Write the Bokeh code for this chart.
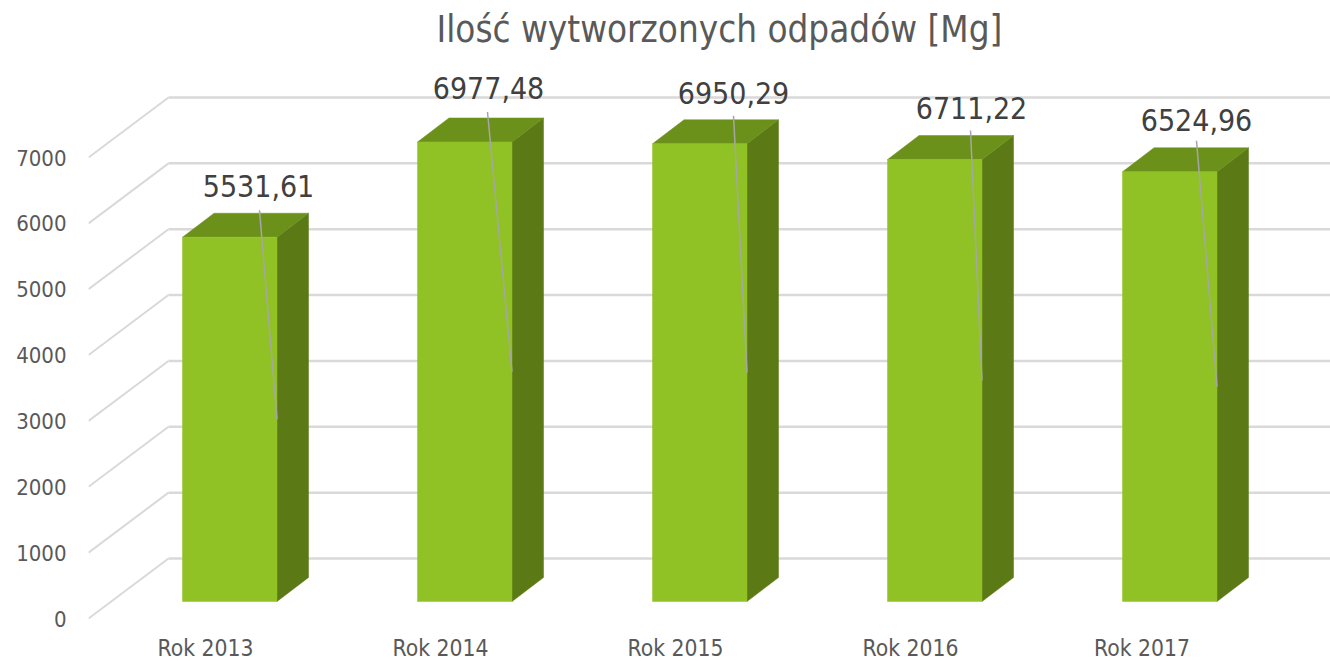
from bokeh.plotting import figure
from bokeh.embed import file_html
from bokeh.resources import INLINE
from bokeh.models import Range1d, FixedTicker, Title
from bokeh.core.properties import value

TITLE = "Ilość wytworzonych odpadów [Mg]"
categories = ["Rok 2013", "Rok 2014", "Rok 2015", "Rok 2016", "Rok 2017"]
values = [5531.61, 6977.48, 6950.29, 6711.22, 6524.96]
value_labels = ["5531,61", "6977,48", "6950,29", "6711,22", "6524,96"]
y_ticks = [0, 1000, 2000, 3000, 4000, 5000, 6000, 7000]

FONT = "DejaVu Sans Condensed"
PX_X = 235.0           # pixels per category
PX_Y = 461.0 / 7000.0  # pixels per unit

def ux(px): return px / PX_X
def uy(px): return px / PX_Y

lift = uy(17)
off_l, off_r = ux(-23), ux(71.5)
dx, dy = ux(31.5), uy(24)
wall_dx, wall_dy = ux(80), uy(60)
# hand-placed data labels (pixels relative to the bar's left edge / back top edge)
label_dx = [76, 71, 81, 84, 74]
label_dy = [27, 30, 27, 28, 28]
leader_dx = [77, 70, 81, 83, 74]
leader_dy = [3, 6, 4, 5, 7]
# the last category label sits a little left of its slot in the reference
tick_pos = [0, 1, 2, 3, 3.985]

p = figure(frame_width=1242, frame_height=565, output_backend="svg", toolbar_location=None,
           x_range=Range1d(ux(-117), ux(1125)), y_range=Range1d(uy(-7), uy(558)),
           min_border_left=88, min_border_right=0, min_border_top=60, min_border_bottom=38,
           outline_line_color=None, background_fill_color="white", border_fill_color="white")
p.grid.visible = False

p.title = Title(text=TITLE, text_font=FONT, text_font_size="36.5px", text_font_style="normal",
                text_color="#595959", align="left", offset=348, standoff=15, vertical_align="top")

ax = p.yaxis[0]
ax.ticker = FixedTicker(ticks=y_ticks)
ax.axis_line_color = None
ax.major_tick_line_color = None
ax.minor_tick_line_color = None
ax.major_label_standoff = 16
ax.major_label_text_font = FONT
ax.major_label_text_font_size = "22px"
ax.major_label_text_color = "#595959"

bx = p.xaxis[0]
bx.ticker = FixedTicker(ticks=tick_pos)
bx.major_label_overrides = {t: c for t, c in zip(tick_pos, categories)}
bx.axis_line_color = None
bx.major_tick_line_color = None
bx.minor_tick_line_color = None
bx.major_label_standoff = 3
bx.major_label_text_font = FONT
bx.major_label_text_font_size = "22.7px"
bx.major_label_text_color = "#595959"

# walls
xl = p.x_range.start
p.segment([xl] * 8, y_ticks, [xl + wall_dx] * 8, [t + wall_dy for t in y_ticks],
          line_color="#D9D9D9", line_width=2)
p.segment([xl + wall_dx] * 8, [t + wall_dy for t in y_ticks], [p.x_range.end] * 8,
          [t + wall_dy for t in y_ticks], line_color="#D9D9D9", line_width=2.5)

# bars
n = range(len(values))
left = [i + off_l for i in n]
right = [i + off_r for i in n]
top = [lift + v for v in values]
p.patches([[r, r + dx, r + dx, r] for r in right],
          [[lift, lift + dy, t + dy, t] for t in top],
          fill_color="#5B7A16", line_color="#5B7A16", line_width=0.5)
p.patches([[l, l + dx, r + dx, r] for l, r in zip(left, right)],
          [[t, t + dy, t + dy, t] for t in top],
          fill_color="#6C911B", line_color="#6C911B", line_width=0.5)
p.quad(left=left, right=right, bottom=[lift] * 5, top=top,
       fill_color="#90C226", line_color="#90C226", line_width=0.5)

# leader lines
p.segment([l + ux(d) for l, d in zip(left, leader_dx)],
          [t + dy + uy(d) for t, d in zip(top, leader_dy)],
          right, [lift + v / 2 for v in values],
          line_color="#A6A6A6", line_width=1.5)

# data labels
p.text([l + ux(d) for l, d in zip(left, label_dx)],
       [t + dy + uy(d) for t, d in zip(top, label_dy)],
       text=value_labels, text_font=value(FONT), text_font_size="30px",
       text_color="#404040", text_align="center", text_baseline="middle")

open("out.html", "w").write(file_html(p, INLINE))
